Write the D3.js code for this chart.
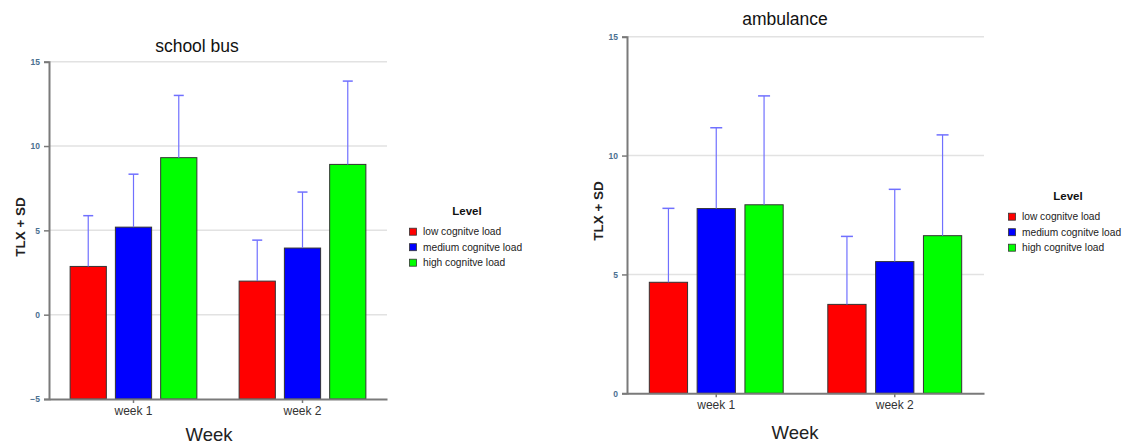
<!DOCTYPE html>
<html><head><meta charset="utf-8">
<script src="https://cdn.jsdelivr.net/npm/d3@7"></script>
<style>body{margin:0;background:#fff}svg{display:block}text{font-family:"Liberation Sans",Arial,sans-serif}</style>
</head><body>
<svg id="c" width="1134" height="445"></svg>
<script>
const categories = ["week 1", "week 2"];
const levels = ["low cognitve load", "medium cognitve load", "high cognitve load"];
const levelColors = ["#ff0000", "#0000ff", "#00ff00"];

// school bus: mean TLX per week, and SD
const busLow = [2.86, 1.99];
const busMedium = [5.19, 3.95];
const busHigh = [9.31, 8.91];
const busLowSD = [3.01, 2.43];
const busMediumSD = [3.14, 3.32];
const busHighSD = [3.69, 4.94];
const busTicks = [-5, 0, 5, 10, 15];

// ambulance
const ambLow = [4.67, 3.74];
const ambMedium = [7.77, 5.54];
const ambHigh = [7.93, 6.63];
const ambLowSD = [3.11, 2.86];
const ambMediumSD = [3.40, 3.04];
const ambHighSD = [4.58, 4.24];
const ambTicks = [0, 5, 10, 15];

const svg = d3.select("#c");

function drawChart(o) {
  const g = svg.append("g");
  const series = [
    {name: levels[0], vals: o.low, sd: o.lowSD, color: levelColors[0]},
    {name: levels[1], vals: o.medium, sd: o.mediumSD, color: levelColors[1]},
    {name: levels[2], vals: o.high, sd: o.highSD, color: levelColors[2]}
  ];
  const x0 = d3.scaleBand().domain(categories).range([o.left, o.right]).paddingInner(0.25).paddingOuter(0.125);
  const x1 = d3.scaleBand().domain(levels).range([0, x0.bandwidth()]).paddingInner(0.2).paddingOuter(0);
  const y = d3.scaleLinear().domain(o.yDomain).range([o.bottom, o.top]);

  // gridlines
  g.selectAll(".grid").data(o.ticks.filter(t => t !== o.yDomain[0])).enter().append("line")
    .attr("x1", o.left).attr("x2", o.right)
    .attr("y1", d => y(d)).attr("y2", d => y(d))
    .attr("stroke", "#e2e2e2").attr("stroke-width", 1.5);

  // bars
  const rows = [];
  categories.forEach((c, i) => series.forEach(s => rows.push({cat: c, lvl: s.name, v: s.vals[i], sd: s.sd[i], color: s.color})));
  g.selectAll(".bar").data(rows).enter().append("rect")
    .attr("x", d => x0(d.cat) + x1(d.lvl))
    .attr("width", x1.bandwidth())
    .attr("y", d => y(d.v))
    .attr("height", d => y(o.yDomain[0]) - y(d.v))
    .attr("fill", d => d.color).attr("stroke", "#333").attr("stroke-width", 1);

  // error bars
  const eb = g.selectAll(".err").data(rows).enter().append("g");
  eb.append("line")
    .attr("x1", d => x0(d.cat) + x1(d.lvl) + x1.bandwidth() / 2)
    .attr("x2", d => x0(d.cat) + x1(d.lvl) + x1.bandwidth() / 2)
    .attr("y1", d => y(d.v)).attr("y2", d => y(d.v + d.sd))
    .attr("stroke", "#7070ff").attr("stroke-width", 1.2);
  eb.append("line")
    .attr("x1", d => x0(d.cat) + x1(d.lvl) + x1.bandwidth() / 2 - o.cap / 2)
    .attr("x2", d => x0(d.cat) + x1(d.lvl) + x1.bandwidth() / 2 + o.cap / 2)
    .attr("y1", d => y(d.v + d.sd)).attr("y2", d => y(d.v + d.sd))
    .attr("stroke", "#7070ff").attr("stroke-width", 1.5);

  // y axis
  const ya = g.append("g").attr("transform", `translate(${o.left},0)`)
    .call(d3.axisLeft(y).tickValues(o.ticks).tickSize(5).tickPadding(4));
  ya.select(".domain").attr("stroke", "#7a7a7a").attr("stroke-width", 2);
  ya.selectAll(".tick line").attr("stroke", "#7a7a7a").attr("stroke-width", 1.5);
  ya.selectAll(".tick text").attr("fill", "#4a7090").attr("font-size", 8.5).attr("font-weight", "bold")
    .attr("font-family", "Liberation Sans, Arial, sans-serif");

  // x axis
  const xa = g.append("g").attr("transform", `translate(0,${o.bottom})`)
    .call(d3.axisBottom(x0).tickSize(4).tickPadding(3).tickSizeOuter(0));
  xa.select(".domain").attr("stroke", "#7a7a7a").attr("stroke-width", 2);
  xa.selectAll(".tick line").attr("stroke", "#7a7a7a").attr("stroke-width", 1.5);
  xa.selectAll(".tick text").attr("fill", "#333").attr("font-size", 12).attr("font-family", "Liberation Sans, Arial, sans-serif");

  // titles
  g.append("text").attr("x", o.titleX).attr("y", o.titleY).attr("text-anchor", "middle")
    .attr("font-size", 17.5).attr("fill", "#111").text(o.title);
  g.append("text").attr("x", o.xTitleX).attr("y", o.xTitleY).attr("text-anchor", "middle")
    .attr("font-size", 18.5).attr("fill", "#222").text("Week");
  g.append("text").attr("transform", `translate(${o.yTitleX},${o.yTitleY}) rotate(-90)`).attr("text-anchor", "middle")
    .attr("font-size", 13.5).attr("font-weight", "bold").attr("fill", "#222").text("TLX + SD");

  // legend
  const lg = g.append("g");
  lg.append("text").attr("x", o.legTitleX).attr("y", o.legY - 17).attr("text-anchor", "middle")
    .attr("font-size", 11.5).attr("font-weight", "bold").attr("fill", "#111").text("Level");
  const li = lg.selectAll(".li").data(series).enter().append("g")
    .attr("transform", (d, i) => `translate(${o.legX},${o.legY + i * 15.5})`);
  li.append("rect").attr("x", -3.5).attr("y", -3.5).attr("width", 7).attr("height", 7)
    .attr("fill", d => d.color).attr("stroke", "#333").attr("stroke-width", 0.8);
  li.append("text").attr("x", 10).attr("y", 3.6).attr("font-size", 10.2).attr("fill", "#222").text(d => d.name);
}

drawChart({
  low: busLow, medium: busMedium, high: busHigh,
  lowSD: busLowSD, mediumSD: busMediumSD, highSD: busHighSD,
  ticks: busTicks, yDomain: [-5, 15],
  left: 49, right: 387, top: 61.7, bottom: 399,
  cap: 10, title: "school bus", titleX: 197, titleY: 52,
  xTitleX: 209, xTitleY: 441, yTitleX: 25, yTitleY: 227,
  legX: 413, legY: 231.7, legTitleX: 467
});

drawChart({
  low: ambLow, medium: ambMedium, high: ambHigh,
  lowSD: ambLowSD, mediumSD: ambMediumSD, highSD: ambHighSD,
  ticks: ambTicks, yDomain: [0, 15],
  left: 627, right: 984, top: 36.7, bottom: 393.3,
  cap: 12, title: "ambulance", titleX: 785, titleY: 25,
  xTitleX: 795, xTitleY: 439, yTitleX: 603, yTitleY: 211,
  legX: 1012, legY: 216.7, legTitleX: 1068
});
</script>
</body></html>
